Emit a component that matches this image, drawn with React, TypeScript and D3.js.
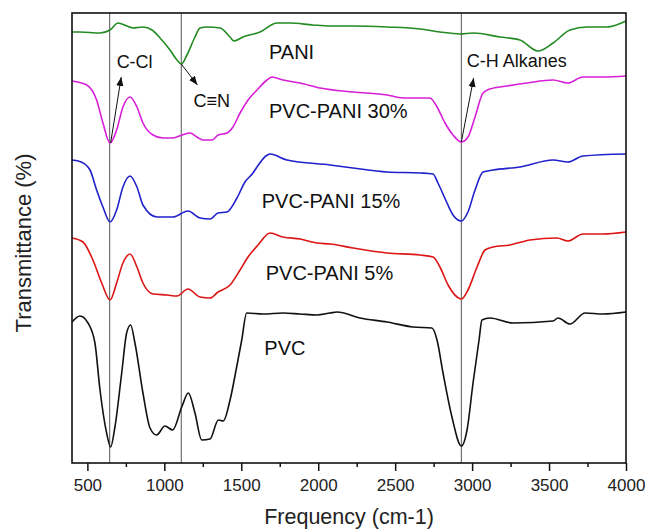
import React, { useEffect, useRef } from 'react';
import * as d3 from 'd3';

// wavenumber (cm-1) / stacked transmittance readings, one pair of arrays per sample
const paniFreq = [400, 452, 582, 647, 699, 757, 796, 861, 920, 972, 1037, 1082, 1110, 1147, 1199, 1232, 1277, 1362, 1427, 1453, 1511, 1622, 1732, 1817, 1966, 2077, 2226, 2447, 2662, 2791, 2921, 3006, 3181, 3311, 3428, 3526, 3636, 3746, 3876, 4000];
const paniT = [431, 431, 430, 433, 440, 437, 435, 436, 433, 425, 413, 403, 399, 408, 426, 435, 436, 435, 426, 422, 426, 431, 440, 440, 438, 437, 437, 436, 434, 431, 429, 430, 426, 423, 412, 420, 433, 436, 436, 442];

const pani30Freq = [400, 496, 560, 601, 647, 690, 731, 777, 822, 861, 926, 991, 1056, 1115, 1167, 1212, 1251, 1310, 1349, 1407, 1446, 1492, 1544, 1602, 1667, 1700, 1771, 1882, 2012, 2226, 2447, 2551, 2726, 2772, 2824, 2876, 2930, 2973, 3019, 3071, 3116, 3227, 3357, 3526, 3623, 3720, 3850, 4000];
const pani30T = [382, 378, 363, 340, 320, 333, 356, 366, 356, 340, 328, 325, 325, 328, 330, 326, 323, 323, 328, 330, 336, 350, 363, 373, 383, 386, 383, 380, 375, 371, 368, 365, 365, 356, 340, 328, 321, 326, 346, 370, 374, 377, 380, 383, 380, 386, 386, 387];

const pani15Freq = [400, 460, 517, 560, 601, 647, 690, 731, 777, 822, 861, 952, 1056, 1154, 1232, 1297, 1349, 1407, 1472, 1524, 1576, 1602, 1687, 1797, 2077, 2226, 2447, 2662, 2746, 2778, 2837, 2876, 2930, 2973, 3019, 3071, 3136, 3311, 3526, 3623, 3720, 4000];
const pani15T = [303, 301, 293, 273, 256, 241, 253, 276, 287, 276, 258, 246, 246, 252, 245, 244, 250, 251, 265, 281, 290, 296, 309, 303, 298, 295, 291, 290, 289, 280, 260, 248, 242, 251, 273, 291, 293, 296, 303, 301, 307, 309];

const pani5Freq = [400, 471, 536, 593, 647, 690, 731, 777, 822, 861, 926, 1017, 1082, 1154, 1232, 1297, 1349, 1427, 1492, 1544, 1609, 1687, 1771, 1882, 1992, 2077, 2226, 2447, 2662, 2746, 2791, 2844, 2902, 2930, 2973, 3032, 3084, 3136, 3246, 3376, 3551, 3623, 3720, 3850, 4000];
const pani5T = [225, 221, 203, 180, 163, 180, 200, 209, 196, 180, 169, 168, 167, 174, 166, 165, 171, 178, 193, 206, 218, 230, 226, 224, 220, 219, 215, 210, 208, 206, 196, 178, 166, 164, 173, 196, 213, 216, 218, 223, 225, 222, 229, 229, 231];

const pvcFreq = [400, 452, 504, 549, 582, 625, 651, 679, 723, 755, 781, 809, 861, 907, 950, 1004, 1054, 1113, 1156, 1199, 1243, 1297, 1351, 1383, 1427, 1470, 1503, 1535, 1641, 1771, 1882, 1992, 2077, 2122, 2271, 2447, 2616, 2739, 2772, 2811, 2869, 2930, 2967, 3006, 3045, 3064, 3116, 3266, 3526, 3558, 3636, 3734, 3850, 4000];
const pvcT = [141, 147, 140, 120, 73, 30, 16, 36, 90, 130, 138, 120, 70, 35, 28, 37, 33, 56, 70, 50, 23, 24, 43, 42, 63, 96, 123, 150, 149, 150, 149, 148, 150, 151, 145, 141, 136, 135, 123, 90, 46, 17, 33, 80, 123, 143, 145, 140, 142, 145, 139, 150, 149, 151];

const seriesNames = ['PANI', 'PVC-PANI 30%', 'PVC-PANI 15%', 'PVC-PANI 5%', 'PVC'];
const seriesColors = ['#228b22', '#d81ed8', '#2020cc', '#dd1515', '#111111'];
// where each series name sits: [wavenumber, transmittance]
const nameAnchors = [[1680, 404], [1680, 345], [1633, 255], [1659, 183], [1650, 108]];

const markerLines = [645, 1110, 2930];
const annotations = [
  { text: 'C-Cl', from: [651, 320], to: [720, 386], at: [690, 395] },
  { text: 'C\u2261N', from: [1110, 399], to: [1215, 378], at: [1190, 356] },
  { text: 'C-H Alkanes', from: [2930, 321], to: [3010, 385], at: [2965, 396] },
];

const majorTicks = [500, 1000, 1500, 2000, 2500, 3000, 3500, 4000];
const minorTicks = [750, 1250, 1750, 2250, 2750, 3250, 3750];

const W = 649;
const H = 530;
const margin = { top: 13, right: 23, bottom: 67, left: 72 };
const FONT = '"Liberation Sans", Arial, sans-serif';

const App: React.FC = () => {
  const svgRef = useRef<SVGSVGElement | null>(null);

  useEffect(() => {
    if (!svgRef.current) return;
    const svg = d3.select(svgRef.current);
    svg.selectAll('*').remove();

    const x0 = margin.left;
    const x1 = W - margin.right;
    const y0 = margin.top;
    const y1 = H - margin.bottom;

    const x = d3.scaleLinear().domain([400, 4000]).range([x0, x1]);
    const y = d3.scaleLinear().domain([0, 450]).range([y1, y0]);

    svg.append('defs').append('marker')
      .attr('id', 'arrow')
      .attr('viewBox', '0 0 10 10')
      .attr('refX', 10)
      .attr('refY', 5)
      .attr('markerWidth', 9)
      .attr('markerHeight', 9)
      .attr('markerUnits', 'userSpaceOnUse')
      .attr('orient', 'auto')
      .append('path')
      .attr('d', 'M0,1 L10,5 L0,9 Z')
      .attr('fill', '#111');

    // reference lines
    svg.selectAll('line.marker')
      .data(markerLines)
      .enter()
      .append('line')
      .attr('class', 'marker')
      .attr('x1', d => x(d))
      .attr('x2', d => x(d))
      .attr('y1', y0)
      .attr('y2', y1)
      .attr('stroke', '#555')
      .attr('stroke-width', 1);

    const series = [
      [paniFreq, paniT],
      [pani30Freq, pani30T],
      [pani15Freq, pani15T],
      [pani5Freq, pani5T],
      [pvcFreq, pvcT],
    ];

    const line = d3.line<[number, number]>()
      .x(d => x(d[0]))
      .y(d => y(d[1]))
      .curve(d3.curveMonotoneX);

    series.forEach(([f, t], i) => {
      const pts = f.map((v, j) => [v, t[j]] as [number, number]);
      svg.append('path')
        .datum(pts)
        .attr('d', line)
        .attr('fill', 'none')
        .attr('stroke', seriesColors[i])
        .attr('stroke-width', 1.6)
        .attr('stroke-linejoin', 'round');
    });

    // series names
    svg.selectAll('text.name')
      .data(seriesNames)
      .enter()
      .append('text')
      .attr('class', 'name')
      .attr('x', (d, i) => x(nameAnchors[i][0]))
      .attr('y', (d, i) => y(nameAnchors[i][1]))
      .attr('font-family', FONT)
      .attr('font-size', 20)
      .attr('fill', '#111')
      .text(d => d);

    // peak annotations
    annotations.forEach(a => {
      svg.append('line')
        .attr('x1', x(a.from[0]))
        .attr('y1', y(a.from[1]))
        .attr('x2', x(a.to[0]))
        .attr('y2', y(a.to[1]))
        .attr('stroke', '#111')
        .attr('stroke-width', 1)
        .attr('marker-end', 'url(#arrow)');
      svg.append('text')
        .attr('x', x(a.at[0]))
        .attr('y', y(a.at[1]))
        .attr('font-family', FONT)
        .attr('font-size', 18)
        .attr('fill', '#111')
        .text(a.text);
    });

    // frame
    svg.append('rect')
      .attr('x', x0)
      .attr('y', y0)
      .attr('width', x1 - x0)
      .attr('height', y1 - y0)
      .attr('fill', 'none')
      .attr('stroke', '#111')
      .attr('stroke-width', 1.6);

    // bottom axis
    const major = svg.append('g')
      .attr('transform', `translate(0,${y1})`)
      .call(d3.axisBottom(x).tickValues(majorTicks).tickSize(8).tickPadding(8).tickFormat(d3.format('d')));
    major.select('.domain').remove();
    major.selectAll('line').attr('stroke', '#111').attr('stroke-width', 1.5);
    major.selectAll('text')
      .attr('font-family', FONT)
      .attr('font-size', 17)
      .attr('fill', '#222');

    const minor = svg.append('g')
      .attr('transform', `translate(0,${y1})`)
      .call(d3.axisBottom(x).tickValues(minorTicks).tickSize(4).tickFormat(() => ''));
    minor.select('.domain').remove();
    minor.selectAll('line').attr('stroke', '#111').attr('stroke-width', 1.5);

    // axis titles
    svg.append('text')
      .attr('x', (x0 + x1) / 2)
      .attr('y', 524)
      .attr('text-anchor', 'middle')
      .attr('font-family', FONT)
      .attr('font-size', 21.5)
      .attr('fill', '#222')
      .text('Frequency (cm-1)');

    svg.append('text')
      .attr('transform', `translate(31,${(y0 + y1) / 2 + 5}) rotate(-90)`)
      .attr('text-anchor', 'middle')
      .attr('font-family', FONT)
      .attr('font-size', 22)
      .attr('fill', '#222')
      .text('Transmittance (%)');
  }, []);

  return (
    <svg
      ref={svgRef}
      width={W}
      height={H}
      style={{ position: 'absolute', left: 0, top: 0, background: '#fff' }}
    />
  );
};

export default App;
